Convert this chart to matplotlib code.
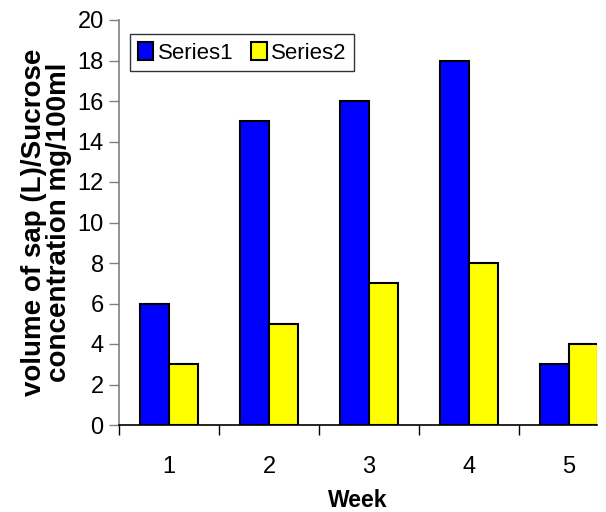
import numpy as np
import matplotlib.pyplot as plt
from matplotlib.ticker import FixedLocator, NullFormatter

plt.rcParams['font.family'] = ['Liberation Sans Narrow', 'Liberation Sans', 'DejaVu Sans']

weeks = ['1', '2', '3', '4', '5']
series1 = [6, 15, 16, 18, 3]
series2 = [3, 5, 7, 8, 4]

x = np.arange(1, len(weeks) + 1)
w = 0.29

fig = plt.figure(figsize=(6.06, 5.12), dpi=100)
ax = fig.add_axes([119 / 606, 87 / 512, 478 / 606, 405 / 512])

ax.bar(x - w / 2, series1, w, color='#0000FF', edgecolor='black', linewidth=1.5, label='Series1')
ax.bar(x + w / 2, series2, w, color='#FFFF00', edgecolor='black', linewidth=1.5, label='Series2')

ax.set_xlim(0.5, 5.28)
ax.set_ylim(0, 20)
ax.set_yticks(range(0, 21, 2))

# category separators as ticks, labels centred under each group
ax.xaxis.set_major_locator(FixedLocator([0.5, 1.5, 2.5, 3.5, 4.5]))
ax.xaxis.set_major_formatter(NullFormatter())
ax.xaxis.set_minor_locator(FixedLocator(x))
ax.set_xticklabels(weeks, minor=True)
ax.tick_params(axis='x', which='major', direction='out', length=7, width=1, color='black')
ax.tick_params(axis='x', which='minor', length=0, pad=22, labelsize=17)
ax.tick_params(axis='y', direction='out', length=7, width=1, color='#808080', labelsize=17, pad=4)

for s in ['top', 'right']:
    ax.spines[s].set_visible(False)
ax.spines['left'].set_color('#808080')
ax.spines['left'].set_linewidth(1.2)
ax.spines['bottom'].set_color('black')
ax.spines['bottom'].set_linewidth(1.2)

ax.set_xlabel('Week', fontsize=16.5, fontweight='bold', family='Liberation Sans', labelpad=8)
ax.set_ylabel('volume of sap (L)/Sucrose\nconcentration mg/100ml', fontsize=20,
              fontweight='bold', family='Liberation Sans', linespacing=0.95, labelpad=4)

leg = ax.legend(loc='upper left', bbox_to_anchor=(130 / 606, 1 - 34 / 512),
                bbox_transform=fig.transFigure, ncol=2, fontsize=16, frameon=True,
                fancybox=False, handlelength=0.7, handleheight=0.9, handletextpad=0.2,
                columnspacing=0.8, borderpad=0.35, borderaxespad=0)
leg.get_frame().set_edgecolor('black')
leg.get_frame().set_linewidth(1)

fig.savefig('out.png', dpi=100)
